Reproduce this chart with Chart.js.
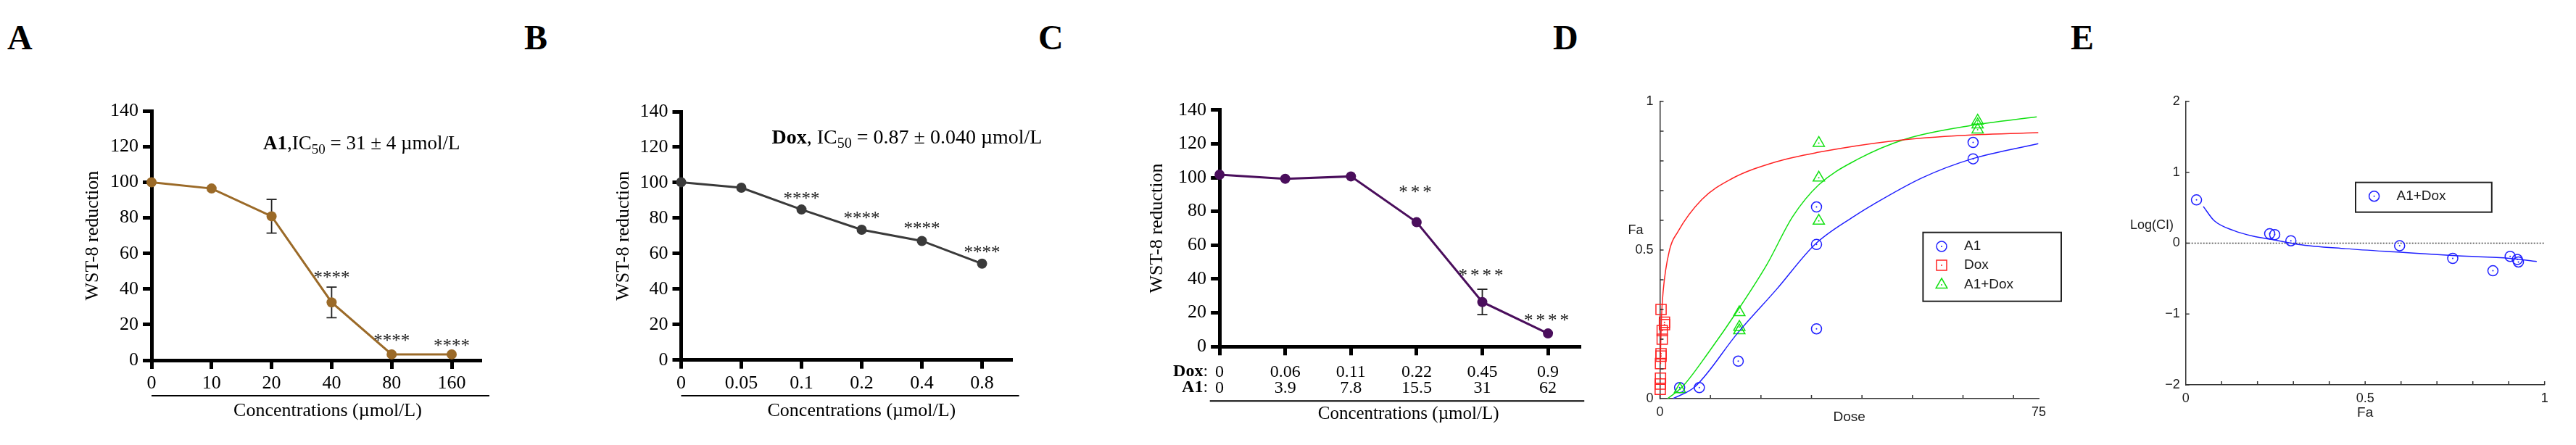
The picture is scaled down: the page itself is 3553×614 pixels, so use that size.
<!DOCTYPE html>
<html>
<head>
<meta charset="utf-8">
<script src="https://cdn.jsdelivr.net/npm/chart.js@4.4.1/dist/chart.umd.min.js"></script>
<style>
html, body { margin: 0; padding: 0; background: #fff; }
body { width: 3553px; height: 614px; position: relative; overflow: hidden; }
canvas { position: absolute; top: 0; }
.lbl { position: absolute; font: bold 48px "Liberation Serif", serif; line-height: 48px; color: #000; }
</style>
</head>
<body>
<div class="lbl" style="left:10px;top:28px">A</div>
<div class="lbl" style="left:723px;top:28px">B</div>
<div class="lbl" style="left:1432px;top:28px">C</div>
<div class="lbl" style="left:2142px;top:28px">D</div>
<div class="lbl" style="left:2856px;top:28px">E</div>

<canvas id="cA" width="720" height="614" style="left:0px"></canvas>
<canvas id="cB" width="720" height="614" style="left:720px"></canvas>
<canvas id="cC" width="760" height="614" style="left:1440px"></canvas>
<canvas id="cD" width="720" height="614" style="left:2160px"></canvas>
<canvas id="cE" width="693" height="614" style="left:2860px"></canvas>

<script>
// ---- panel A: A1 alone ----
const catsA = ['0', '10', '20', '40', '80', '160'];
const valsA = [100, 96.5, 80.9, 32.5, 3.3, 3.3];
const errA = [0, 0, 9.5, 8.6, 0, 0];
const starsA = ['', '', '', '****', '****', '****'];
const starAtA = [null, null, null, 47.7, 12.3, 9.6];

// ---- panel B: Dox alone ----
const catsB = ['0', '0.05', '0.1', '0.2', '0.4', '0.8'];
const valsB = [100.2, 97.1, 84.8, 73.4, 67.1, 54.3];
const errB = [0, 0, 0, 0, 0, 0];
const starsB = ['', '', '****', '****', '****', '****'];
const starAtB = [null, null, 92.6, 81.2, 75.8, 62.1];

// ---- panel C: combination ----
const doxC = ['0', '0.06', '0.11', '0.22', '0.45', '0.9'];
const a1C = ['0', '3.9', '7.8', '15.5', '31', '62'];
const valsC = [101.7, 99.3, 100.7, 73.6, 26.4, 7.8];
const errC = [0, 0, 0, 0, 7.5, 0];
const starsC = ['', '', '', '***', '****', '****'];
const starAtC = [null, null, null, 92.8, 43.5, 17.1];

const wstTicks = [0, 20, 40, 60, 80, 100, 120, 140];

// ---- panel D: dose-effect ----
const a1Dose = [3.9, 7.8, 15.5, 31, 31, 31, 62, 62];
const a1Fa = [0.037, 0.037, 0.126, 0.235, 0.519, 0.645, 0.807, 0.862];
const doxDose = [0.06, 0.06, 0.11, 0.11, 0.22, 0.22, 0.45, 0.45, 0.9, 0.9, 0.22];
const doxFa = [0.031, 0.049, 0.069, 0.118, 0.143, 0.151, 0.2, 0.229, 0.249, 0.257, 0.3];
const comboDose = [3.96, 15.72, 15.72, 15.72, 31.45, 31.45, 31.45, 62.9, 62.9, 62.9];
const comboFa = [0.031, 0.29, 0.241, 0.229, 0.86, 0.743, 0.598, 0.935, 0.922, 0.905];

const fitA1Dose = [2.6, 7.0, 15.4, 23.1, 30.7, 38.4, 42.3, 51.9, 61.8, 74.9];
const fitA1Fa = [0, 0.041, 0.221, 0.368, 0.519, 0.613, 0.654, 0.743, 0.807, 0.858];
const fitDoxDose = [0.06, 0.3, 0.63, 1.9, 3.5, 8.3, 14.1, 23.0, 31.4, 45.5, 58.3, 74.9];
const fitDoxFa = [0.12, 0.27, 0.36, 0.5, 0.56, 0.67, 0.739, 0.797, 0.829, 0.866, 0.884, 0.895];
const fitComboDose = [1.5, 4.5, 9.6, 15.4, 21.1, 26.3, 31.4, 39.1, 48.7, 61.5, 74.6];
const fitComboFa = [0, 0.041, 0.155, 0.297, 0.449, 0.613, 0.719, 0.805, 0.874, 0.919, 0.948];

// ---- panel E: combination index ----
const ciFa = [0.03, 0.234, 0.248, 0.293, 0.596, 0.744, 0.856, 0.904, 0.924, 0.927];
const ciLog = [0.61, 0.133, 0.12, 0.034, -0.037, -0.215, -0.39, -0.187, -0.231, -0.265];
const ciFitFa = [0.049, 0.080, 0.134, 0.187, 0.241, 0.313, 0.446, 0.598, 0.759, 0.902, 0.978];
const ciFitLog = [0.518, 0.314, 0.178, 0.099, 0.051, -0.017, -0.078, -0.129, -0.18, -0.214, -0.258];

const SERIF = '"Liberation Serif", "Times New Roman", serif';
const SANS = '"Liberation Sans", Arial, sans-serif';
const BLUE = '#1f1fff', RED = '#ff2323', GREEN = '#12e012';

function pts(xs, ys) {
    return xs.map((x, i) => ({ x: x, y: ys[i] }));
}

// draw text made of bold / plain / subscript pieces
function drawRich(ctx, parts, x, y, size) {
    ctx.textAlign = 'left';
    ctx.textBaseline = 'alphabetic';
    parts.forEach(p => {
        const fs = p.sub ? Math.round(size * 0.7) : size;
        ctx.font = (p.bold ? 'bold ' : '') + fs + 'px ' + SERIF;
        ctx.fillText(p.t, x, y + (p.sub ? size * 0.22 : 0));
        x += ctx.measureText(p.t).width;
    });
}

// WST-8 line chart (panels A, B, C)
function wstChart(id, p) {
    const cv = document.getElementById(id);
    const H = cv.height, W = cv.width;

    const deco = {
        id: 'deco',
        beforeDatasetsDraw(chart) {
            const ctx = chart.ctx, xs = chart.scales.x, ys = chart.scales.y;
            ctx.save();
            ctx.strokeStyle = '#222';
            ctx.lineWidth = 1.8;
            p.err.forEach((e, i) => {
                if (!e) return;
                const x = xs.getPixelForValue(i);
                const y1 = ys.getPixelForValue(p.vals[i] + e);
                const y2 = ys.getPixelForValue(p.vals[i] - e);
                ctx.beginPath();
                ctx.moveTo(x, y1); ctx.lineTo(x, y2);
                ctx.moveTo(x - 7, y1); ctx.lineTo(x + 7, y1);
                ctx.moveTo(x - 7, y2); ctx.lineTo(x + 7, y2);
                ctx.stroke();
            });
            ctx.restore();
        },
        afterDraw(chart) {
            const ctx = chart.ctx, xs = chart.scales.x, ys = chart.scales.y, a = chart.chartArea;
            ctx.save();

            // significance stars
            ctx.fillStyle = '#222';
            ctx.font = '25px ' + SERIF;
            ctx.textAlign = 'center';
            ctx.textBaseline = 'middle';
            ctx.letterSpacing = p.starSpacing || '0px';
            p.stars.forEach((s, i) => {
                if (s) ctx.fillText(s, xs.getPixelForValue(i), ys.getPixelForValue(p.starAt[i]) + 5);
            });
            ctx.letterSpacing = '0px';

            // line under the tick labels
            ctx.strokeStyle = '#000';
            ctx.lineWidth = 2;
            ctx.beginPath();
            ctx.moveTo(a.left + p.sep[0], p.sep[2]);
            ctx.lineTo(a.right + p.sep[1], p.sep[2]);
            ctx.stroke();

            // x title
            ctx.fillStyle = '#000';
            ctx.font = p.titleSize + 'px ' + SERIF;
            ctx.fillText('Concentrations (\u00b5mol/L)', p.titleX, p.titleY);

            // Dox / A1 row names (panel C)
            if (p.rows) {
                const x0 = xs.getPixelForValue(0) - 16;
                ctx.font = '24px ' + SERIF;
                const cw = ctx.measureText(':').width;
                p.rows.forEach((r, k) => {
                    const y = p.rowY[k];
                    ctx.textAlign = 'right';
                    ctx.font = '24px ' + SERIF;
                    ctx.fillText(':', x0, y);
                    ctx.font = 'bold 24px ' + SERIF;
                    ctx.fillText(r, x0 - cw, y);
                });
            }

            // IC50 note
            if (p.note) {
                ctx.fillStyle = '#000';
                drawRich(ctx, p.note, a.left + p.noteDx, a.top + p.noteDy, p.noteSize);
            }
            ctx.restore();
        }
    };

    return new Chart(cv, {
        type: 'line',
        data: {
            datasets: [{
                data: p.vals.map((v, i) => ({ x: i, y: v })),
                borderColor: p.color,
                backgroundColor: p.color,
                pointBackgroundColor: p.color,
                pointBorderColor: p.color,
                borderWidth: 3,
                pointRadius: 7,
                pointBorderWidth: 0,
                clip: false
            }]
        },
        options: {
            responsive: false,
            animation: false,
            events: [],
            layout: { padding: { left: 0, top: p.area.top, right: W - p.area.right, bottom: 0 } },
            plugins: { legend: { display: false }, tooltip: { enabled: false } },
            scales: {
                x: {
                    type: 'linear', min: 0, max: 5.5,
                    afterBuildTicks: s => { s.ticks = p.vals.map((_, i) => ({ value: i })); },
                    afterFit: s => { s.height = H - p.area.bottom; },
                    ticks: {
                        callback: p.xLabel,
                        color: '#000',
                        font: { family: SERIF, size: p.xFont, lineHeight: p.xLine },
                        padding: p.xPad,
                        maxRotation: 0,
                        autoSkip: false
                    },
                    grid: { display: true, drawOnChartArea: false, drawTicks: true, tickLength: 12, tickWidth: 5, tickColor: '#000' },
                    border: { display: true, width: 5, color: '#000' }
                },
                y: {
                    min: 0, max: 140,
                    afterBuildTicks: s => { s.ticks = wstTicks.map(v => ({ value: v })); },
                    afterFit: s => { s.width = p.area.left; },
                    ticks: { color: '#000', font: { family: SERIF, size: 26 }, padding: 6 },
                    grid: { display: true, drawOnChartArea: false, drawTicks: true, tickLength: 12, tickWidth: 5, tickColor: '#000' },
                    border: { display: true, width: 5, color: '#000' },
                    title: {
                        display: true, text: 'WST-8 reduction', color: '#000',
                        font: { family: SERIF, size: 26 },
                        padding: { top: p.yTitlePad, bottom: 0 }
                    }
                }
            }
        },
        plugins: [deco]
    });
}

wstChart('cA', {
    vals: valsA, err: errA, stars: starsA, starAt: starAtA, color: '#9b6a28',
    area: { left: 209, right: 664.4, top: 153.3, bottom: 497 },
    xLabel: v => catsA[v], xFont: 26, xLine: 1.2, xPad: 5,
    yTitlePad: 113,
    sep: [0, 10.6, 546], titleX: 452, titleY: 567, titleSize: 26,
    note: [{ t: 'A1', bold: true }, { t: ',IC' }, { t: '50', sub: true }, { t: ' = 31 \u00b1 4 \u00b5mol/L' }],
    noteDx: 154, noteDy: 53, noteSize: 27
});

wstChart('cB', {
    vals: valsB, err: errB, stars: starsB, starAt: starAtB, color: '#3a3a3a',
    area: { left: 219.5, right: 676, top: 154, bottom: 496.7 },
    xLabel: v => catsB[v], xFont: 26, xLine: 1.2, xPad: 5,
    yTitlePad: 124.4,
    sep: [0, 9.6, 546], titleX: 468.4, titleY: 567, titleSize: 26,
    note: [{ t: 'Dox', bold: true }, { t: ', IC' }, { t: '50', sub: true }, { t: ' = 0.87 \u00b1 0.040 \u00b5mol/L' }],
    noteDx: 125, noteDy: 44, noteSize: 28
});

wstChart('cC', {
    vals: valsC, err: errC, stars: starsC, starAt: starAtC, color: '#4a0e5c', starSpacing: '4px',
    area: { left: 242.1, right: 740.4, top: 151.7, bottom: 478.3 },
    xLabel: v => [doxC[v], a1C[v]], xFont: 24, xLine: 22 / 24, xPad: 12,
    yTitlePad: 140.4,
    sep: [-13.4, 4.8, 553.3], titleX: 502.6, titleY: 571.7, titleSize: 25,
    rows: ['Dox', 'A1'], rowY: [513, 535]
});

// inward tick marks for the CompuSyn-style plots
function innerTicks(chart, xMarks, yMarks, len) {
    const ctx = chart.ctx, xs = chart.scales.x, ys = chart.scales.y, a = chart.chartArea;
    ctx.save();
    ctx.strokeStyle = '#333';
    ctx.lineWidth = 1.5;
    ctx.beginPath();
    xMarks.forEach(v => {
        const x = xs.getPixelForValue(v);
        ctx.moveTo(x, a.bottom); ctx.lineTo(x, a.bottom - len);
    });
    yMarks.forEach(v => {
        const y = ys.getPixelForValue(v);
        ctx.moveTo(a.left, y); ctx.lineTo(a.left + len, y);
    });
    ctx.stroke();
    ctx.restore();
}

function marker(ctx, style, x, y, color) {
    ctx.save();
    ctx.strokeStyle = color;
    ctx.fillStyle = color;
    ctx.lineWidth = 1.5;
    ctx.beginPath();
    if (style === 'circle') ctx.arc(x, y, 7, 0, Math.PI * 2);
    else if (style === 'rect') ctx.rect(x - 7, y - 7, 14, 14);
    else {
        ctx.moveTo(x, y - 9);
        ctx.lineTo(x + 7.8, y + 4.5);
        ctx.lineTo(x - 7.8, y + 4.5);
        ctx.closePath();
    }
    ctx.stroke();
    ctx.beginPath();
    ctx.arc(x, y, 1, 0, Math.PI * 2);
    ctx.fill();
    ctx.restore();
}

// small dot at the centre of each open marker
const centreDots = {
    id: 'centreDots',
    afterDatasetsDraw(chart) {
        const ctx = chart.ctx;
        chart.data.datasets.forEach((ds, k) => {
            if (ds.showLine) return;
            chart.getDatasetMeta(k).data.forEach(el => {
                ctx.save();
                ctx.fillStyle = ds.borderColor;
                ctx.beginPath();
                ctx.arc(el.x, el.y, 1, 0, Math.PI * 2);
                ctx.fill();
                ctx.restore();
            });
        });
    }
};

function curve(xs, ys, color) {
    return {
        data: pts(xs, ys), showLine: true, borderColor: color, borderWidth: 1.5,
        pointRadius: 0, cubicInterpolationMode: 'monotone', fill: false
    };
}

function openPts(xs, ys, color, style, r) {
    return {
        data: pts(xs, ys), pointStyle: style, pointRadius: r, borderColor: color,
        backgroundColor: 'rgba(0,0,0,0)', pointBorderWidth: 1.5, clip: false
    };
}

// ---- D ----
const cvD = document.getElementById('cD');
new Chart(cvD, {
    type: 'scatter',
    data: {
        datasets: [
            curve(fitDoxDose, fitDoxFa, RED),
            curve(fitComboDose, fitComboFa, GREEN),
            curve(fitA1Dose, fitA1Fa, BLUE),
            openPts(doxDose, doxFa, RED, 'rect', 10),
            openPts(comboDose, comboFa, GREEN, 'triangle', 9),
            openPts(a1Dose, a1Fa, BLUE, 'circle', 7)
        ]
    },
    options: {
        responsive: false,
        animation: false,
        events: [],
        layout: { padding: { left: 0, top: 140, right: 720 - 652, bottom: 0 } },
        plugins: { legend: { display: false }, tooltip: { enabled: false } },
        scales: {
            x: {
                type: 'linear', min: 0, max: 75,
                afterBuildTicks: s => { s.ticks = [0, 10, 20, 30, 40, 50, 60, 70, 75].map(v => ({ value: v })); },
                afterFit: s => { s.height = 614 - 550; },
                ticks: {
                    callback: v => (v === 0 || v === 75) ? String(v) : '',
                    color: '#1a1a1a', font: { family: SANS, size: 18 }, padding: 8, maxRotation: 0, autoSkip: false
                },
                grid: { display: true, drawOnChartArea: false, drawTicks: false },
                border: { display: true, width: 1.5, color: '#333' },
                title: { display: true, text: 'Dose', color: '#1a1a1a', font: { family: SANS, size: 19 }, padding: { top: 0, bottom: 26.6 } }
            },
            y: {
                min: 0, max: 1,
                afterBuildTicks: s => { s.ticks = [0, 1, 2, 3, 4, 5, 6, 7, 8, 9, 10].map(k => ({ value: k / 10 })); },
                afterFit: s => { s.width = 129.5; },
                ticks: {
                    callback: v => { const k = Math.round(v * 10); return k === 0 ? '0' : k === 5 ? '0.5' : k === 10 ? '1' : ''; },
                    color: '#1a1a1a', font: { family: SANS, size: 18 }, padding: 9, autoSkip: false
                },
                grid: { display: true, drawOnChartArea: false, drawTicks: false },
                border: { display: true, width: 1.5, color: '#333' }
            }
        }
    },
    plugins: [centreDots, {
        id: 'decoD',
        afterDraw(chart) {
            const ctx = chart.ctx;
            innerTicks(chart, [0, 10, 20, 30, 40, 50, 60, 70], [0.1, 0.2, 0.3, 0.4, 0.5, 0.6, 0.7, 0.8, 0.9, 1], 5);
            ctx.save();
            ctx.fillStyle = '#1a1a1a';
            ctx.font = '18px ' + SANS;
            ctx.textAlign = 'center';
            ctx.textBaseline = 'middle';
            ctx.fillText('Fa', 96, 318.5);

            // legend
            ctx.strokeStyle = '#222';
            ctx.lineWidth = 2;
            ctx.fillStyle = '#fff';
            ctx.fillRect(492.4, 320.7, 190.6, 95);
            ctx.strokeRect(492.4, 320.7, 190.6, 95);
            const items = [['A1', 'circle', BLUE], ['Dox', 'rect', RED], ['A1+Dox', 'triangle', GREEN]];
            const rowY = [340, 366, 393];
            items.forEach((it, k) => {
                marker(ctx, it[1], 518, rowY[k], it[2]);
                ctx.fillStyle = '#1a1a1a';
                ctx.font = '19px ' + SANS;
                ctx.textAlign = 'left';
                ctx.textBaseline = 'middle';
                ctx.fillText(it[0], 549, rowY[k]);
            });
            ctx.restore();
        }
    }]
});

// ---- E ----
const cvE = document.getElementById('cE');
new Chart(cvE, {
    type: 'scatter',
    data: {
        datasets: [
            curve(ciFitFa, ciFitLog, BLUE),
            openPts(ciFa, ciLog, BLUE, 'circle', 7)
        ]
    },
    options: {
        responsive: false,
        animation: false,
        events: [],
        layout: { padding: { left: 0, top: 140, right: 693 - 649.7, bottom: 0 } },
        plugins: { legend: { display: false }, tooltip: { enabled: false } },
        scales: {
            x: {
                type: 'linear', min: 0, max: 1,
                afterBuildTicks: s => { s.ticks = [0, 1, 2, 3, 4, 5, 6, 7, 8, 9, 10].map(k => ({ value: k / 10 })); },
                afterFit: s => { s.height = 614 - 531; },
                ticks: {
                    callback: v => { const k = Math.round(v * 10); return k === 0 ? '0' : k === 5 ? '0.5' : k === 10 ? '1' : ''; },
                    color: '#1a1a1a', font: { family: SANS, size: 18 }, padding: 8, maxRotation: 0, autoSkip: false
                },
                grid: { display: true, drawOnChartArea: false, drawTicks: false },
                border: { display: true, width: 1.5, color: '#333' },
                title: { display: true, text: 'Fa', color: '#1a1a1a', font: { family: SANS, size: 19 }, padding: { top: 0, bottom: 32.6 } }
            },
            y: {
                min: -2, max: 2,
                afterBuildTicks: s => { s.ticks = [-2, -1, 0, 1, 2].map(v => ({ value: v })); },
                afterFit: s => { s.width = 154.7; },
                ticks: {
                    callback: v => v < 0 ? '\u2212' + Math.abs(v) : String(v),
                    color: '#1a1a1a', font: { family: SANS, size: 18 }, padding: 8
                },
                grid: { display: true, drawOnChartArea: false, drawTicks: false },
                border: { display: true, width: 1.5, color: '#333' }
            }
        }
    },
    plugins: [centreDots, {
        id: 'decoE',
        beforeDatasetsDraw(chart) {
            const ctx = chart.ctx, a = chart.chartArea;
            const y0 = chart.scales.y.getPixelForValue(0);
            ctx.save();
            ctx.strokeStyle = '#444';
            ctx.lineWidth = 1.5;
            ctx.setLineDash([2, 2]);
            ctx.beginPath();
            ctx.moveTo(a.left, y0);
            ctx.lineTo(a.right, y0);
            ctx.stroke();
            ctx.restore();
        },
        afterDraw(chart) {
            const ctx = chart.ctx;
            innerTicks(chart, [0.1, 0.2, 0.3, 0.4, 0.5, 0.6, 0.7, 0.8, 0.9, 1], [-2, -1, 0, 1, 2], 5);
            ctx.save();
            ctx.fillStyle = '#1a1a1a';
            ctx.font = '18px ' + SANS;
            ctx.textAlign = 'center';
            ctx.textBaseline = 'middle';
            ctx.fillText('Log(CI)', 108, 310.7);

            ctx.strokeStyle = '#222';
            ctx.lineWidth = 2;
            ctx.strokeRect(389, 251.7, 187.8, 41);
            marker(ctx, 'circle', 414.6, 270.7, BLUE);
            ctx.fillStyle = '#1a1a1a';
            ctx.font = '19px ' + SANS;
            ctx.textAlign = 'left';
            ctx.fillText('A1+Dox', 445.5, 270.7);
            ctx.restore();
        }
    }]
});
</script>
</body>
</html>
